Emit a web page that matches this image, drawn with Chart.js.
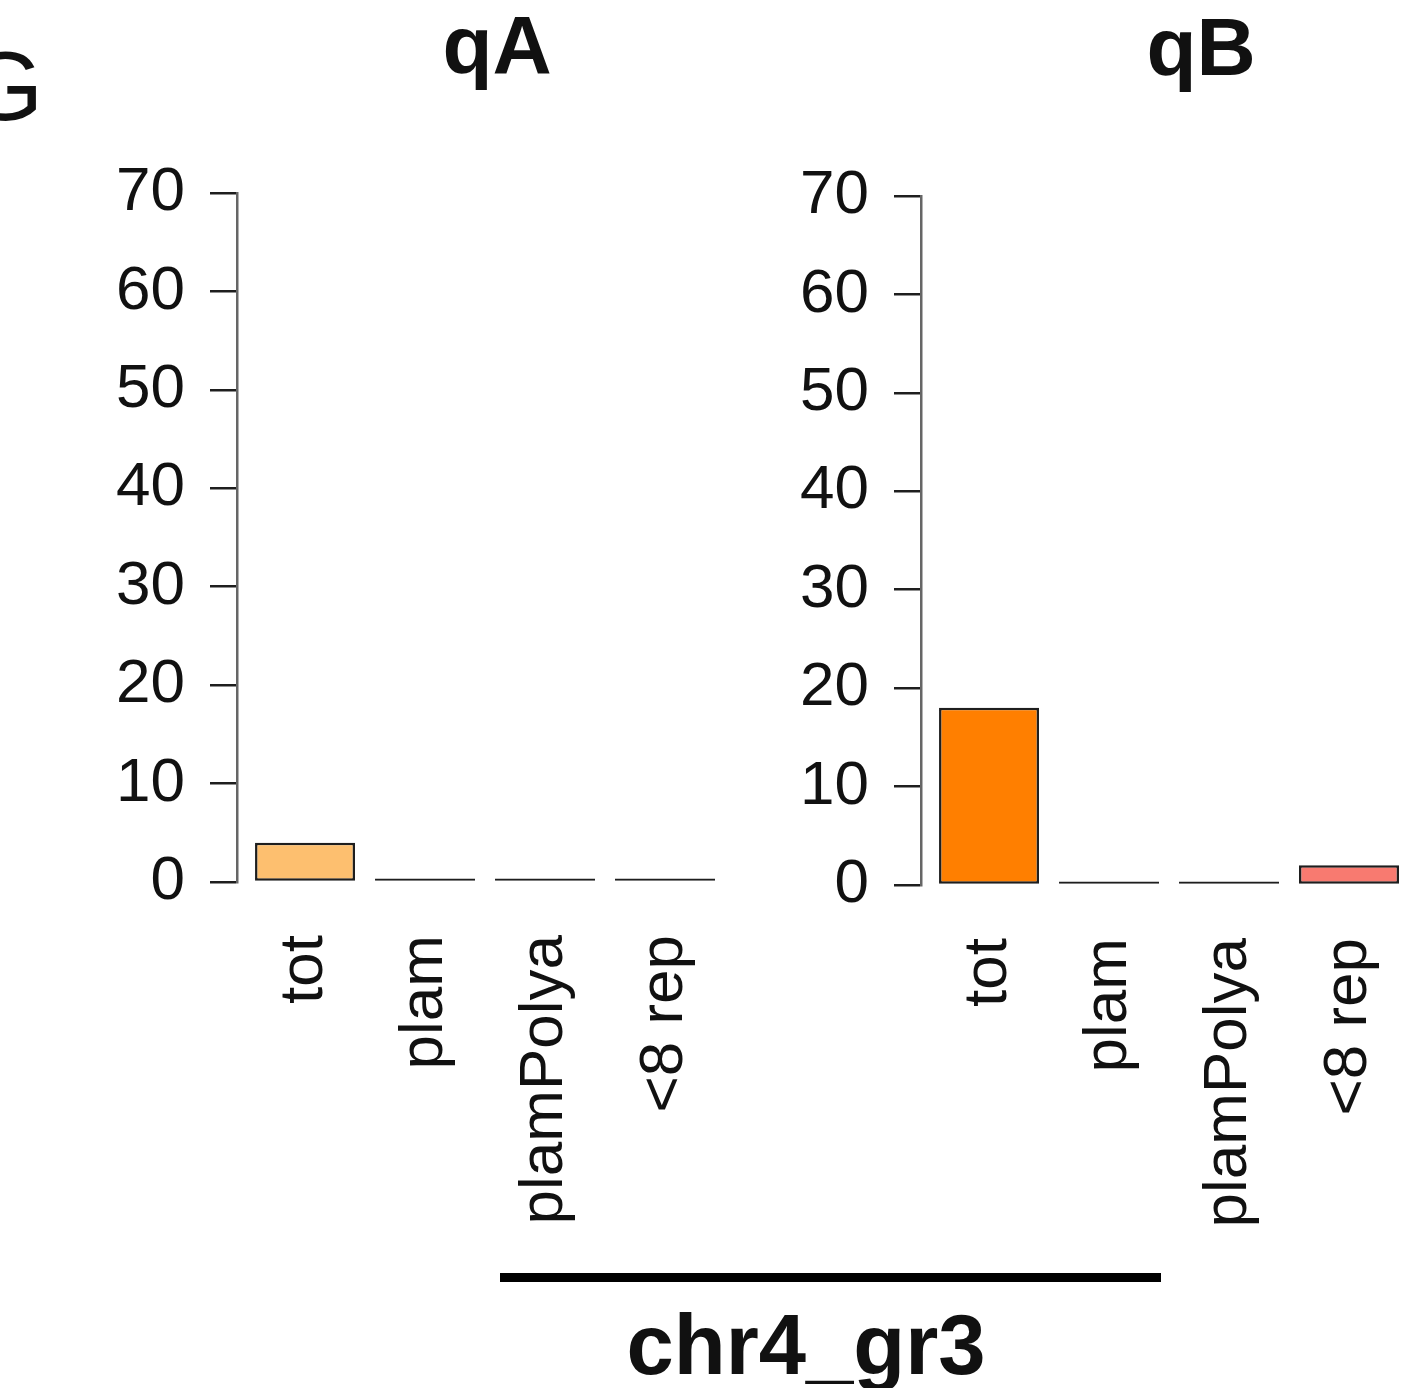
<!DOCTYPE html>
<html>
<head>
<meta charset="utf-8">
<script src="https://cdn.jsdelivr.net/npm/chart.js@4/dist/chart.umd.min.js"></script>
<style>
    html, body { margin: 0; padding: 0; background: #fff; }
    body { width: 1420px; height: 1388px; position: relative; overflow: hidden; font-family: 'Liberation Sans', Arial, Helvetica, sans-serif; color: #111; }
    .panel { position: absolute; }
    .txt { position: absolute; white-space: nowrap; line-height: 1; }
    .bold { font-weight: bold; }
    #bracket { position: absolute; background: #000; height: 9px; }
</style>
</head>
<body>
<div class="txt" style="left:-33px; top:37px; font-size:98px;">G</div>
<div class="txt bold" id="title-qA" style="top:4px; font-size:82px;">qA</div>
<div class="txt bold" id="title-qB" style="top:6px; font-size:82px;">qB</div>

<div class="panel" style="left:0; top:0;"><canvas id="chart-qA" width="736" height="1282"></canvas></div>
<div class="panel" style="left:684px; top:3px;"><canvas id="chart-qB" width="736" height="1282"></canvas></div>

<div id="bracket"></div>
<div class="txt bold" id="group-label" style="top:1302px; font-size:85px;">chr4_gr3</div>

<script>
const categories = ['tot', 'plam', 'plamPolya', '<8 rep']
const qAValues = [4, 0, 0, 0]
const qBValues = [18, 0, 0, 2]
const qAColors = ['#FDBF6F', '#FDBF6F', '#FDBF6F', '#FDBF6F']
const qBColors = ['#FF7F00', '#FF7F00', '#FF7F00', '#F87A70']
const yMax = 70
const yStep = 10

const FONT = "'Liberation Sans', Arial, Helvetica, sans-serif"
const EDGE = '#1e1e1e'

Chart.defaults.font.family = FONT
Chart.defaults.color = '#111'

function makeChart(id, values, colors) {
    return new Chart(document.getElementById(id), {
        type: 'bar',
        data: {
            datasets: [{
                data: values.map((v, i) => ({ x: i, y: v })),
                // empty categories collapse to a dark baseline stub
                backgroundColor: (ctx) => values[ctx.dataIndex] === 0 ? EDGE : colors[ctx.dataIndex],
                borderColor: EDGE,
                borderWidth: 2.5,
                borderSkipped: false,
                inflateAmount: 0,
                barThickness: 100,
                minBarLength: 3.5,
                clip: false,
            }],
        },
        options: {
            responsive: false,
            animation: false,
            layout: { padding: { top: 193, left: 0, right: 11, bottom: 0 } },
            plugins: {
                legend: { display: false },
                tooltip: { enabled: false },
                title: { display: false },
            },
            scales: {
                x: {
                    type: 'linear',
                    offset: false,
                    min: -0.567,
                    max: 3.5,
                    grid: { display: false, drawTicks: false, offset: false },
                    border: { display: false },
                    afterFit: (scale) => {
                        scale.height = 400
                        // rotated labels sit well inside the plot, no extra side room needed
                        scale.paddingLeft = 0
                        scale.paddingRight = 0
                    },
                    ticks: {
                        stepSize: 1,
                        includeBounds: false,
                        autoSkip: false,
                        minRotation: 90,
                        maxRotation: 90,
                        padding: 53,
                        font: { size: 62 },
                        callback: (v) => categories[v] ?? '',
                    },
                },
                y: {
                    min: 0,
                    max: yMax,
                    afterFit: (scale) => { scale.width = 237 },
                    border: { display: true, color: '#666', width: 2.5 },
                    grid: {
                        drawOnChartArea: false,
                        drawTicks: true,
                        tickLength: 27,
                        color: EDGE,
                        lineWidth: 2.5,
                    },
                    ticks: {
                        stepSize: yStep,
                        padding: 25,
                        font: { size: 62 },
                    },
                },
            },
        },
    })
}

const chartA = makeChart('chart-qA', qAValues, qAColors)
const chartB = makeChart('chart-qB', qBValues, qBColors)

const offsetB = 684
const placeCentered = (el, cx) => {
    el.style.left = (cx - el.offsetWidth / 2) + 'px'
}
placeCentered(document.getElementById('title-qA'), 497)
placeCentered(document.getElementById('title-qB'), 1201)

// bracket spans plamPolya (qA) .. plam (qB)
const bracket = document.getElementById('bracket')
const bLeft = chartA.scales.x.getPixelForValue(2) - 45
const bRight = offsetB + chartB.scales.x.getPixelForValue(1) + 52
bracket.style.left = bLeft + 'px'
bracket.style.width = (bRight - bLeft) + 'px'
bracket.style.top = '1273px'
placeCentered(document.getElementById('group-label'), 806)
</script>
</body>
</html>
